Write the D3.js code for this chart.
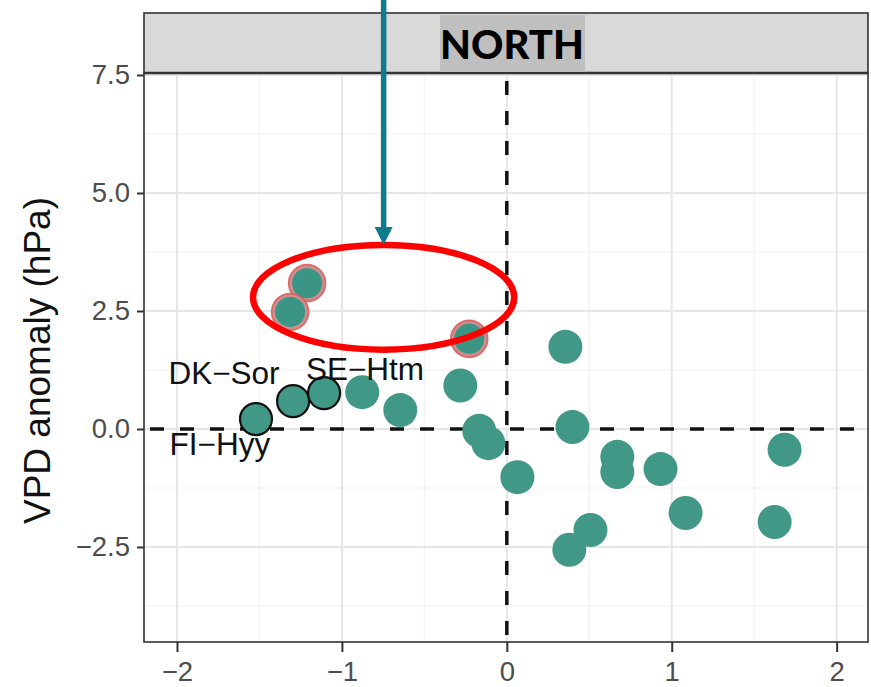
<!DOCTYPE html>
<html><head><meta charset="utf-8">
<script src="https://cdn.jsdelivr.net/npm/d3@7"></script>
<style>html,body{margin:0;padding:0;background:#fff;} svg{display:block;}</style>
</head><body>
<svg id="chart" width="871" height="687"></svg>
<script>
// ---- data ----
const plainX = [-0.877, -0.646, -0.282, -0.167, -0.112, 0.064, 0.355, 0.398, 0.670, 0.670, 0.932, 1.084, 0.507, 0.379, 1.684, 1.624];
const plainY = [0.78, 0.40, 0.92, -0.04, -0.30, -1.02, 1.74, 0.04, -0.59, -0.91, -0.85, -1.78, -2.14, -2.56, -0.44, -1.97];
const outlinedX = [-1.521, -1.296, -1.108];
const outlinedY = [0.21, 0.59, 0.76];
const highlightX = [-1.211, -1.314, -0.228];
const highlightY = [3.09, 2.48, 1.91];
const siteLabels = ["DK\u2212Sor", "SE\u2212Htm", "FI\u2212Hyy"];
const siteLabelX = [-1.715, -0.86, -1.74];
const siteLabelY = [1.12, 1.22, -0.38];
const xTicks = [-2, -1, 0, 1, 2];
const xMinor = [-1.5, -0.5, 0.5, 1.5];
const yTicks = [-2.5, 0, 2.5, 5, 7.5];
const yMinor = [-3.75, -1.25, 1.25, 3.75, 6.25];
const panelTitle = "NORTH";
const yTitle = "VPD anomaly (hPa)";
const ellipseCenter = [-0.747, 2.79];
const ellipseRadii = [0.792, 1.11];

// ---- layout ----
const L = 144, R = 868, T = 73, B = 642, stripTop = 13;
const x = d3.scaleLinear().domain([-2.2, 2.19]).range([L, R]);
const y = d3.scaleLinear().domain([-4.513, 7.542]).range([B, T]);
const svg = d3.select("#chart");
const teal = "#419886";

// grid
const g = svg.append("g");
g.selectAll(".xmin").data(xMinor).join("line").attr("x1", d => x(d)).attr("x2", d => x(d)).attr("y1", T).attr("y2", B).attr("stroke", "#f2f2f2").attr("stroke-width", 1.2);
g.selectAll(".ymin").data(yMinor).join("line").attr("y1", d => y(d)).attr("y2", d => y(d)).attr("x1", L).attr("x2", R).attr("stroke", "#f2f2f2").attr("stroke-width", 1.2);
g.selectAll(".xmaj").data(xTicks).join("line").attr("x1", d => x(d)).attr("x2", d => x(d)).attr("y1", T).attr("y2", B).attr("stroke", "#e6e6e6").attr("stroke-width", 2);
g.selectAll(".ymaj").data(yTicks).join("line").attr("y1", d => y(d)).attr("y2", d => y(d)).attr("x1", L).attr("x2", R).attr("stroke", "#e6e6e6").attr("stroke-width", 2);

// reference dashed lines
svg.append("line").attr("x1", L).attr("x2", R).attr("y1", y(0)).attr("y2", y(0))
  .attr("stroke", "#111").attr("stroke-width", 3.5).attr("stroke-dasharray", "14,16").attr("stroke-dashoffset", -6);
svg.append("line").attr("x1", x(0)).attr("x2", x(0)).attr("y1", T).attr("y2", B)
  .attr("stroke", "#111").attr("stroke-width", 3.5).attr("stroke-dasharray", "14,16").attr("stroke-dashoffset", -8);

// points
const r = 17;
svg.append("g").selectAll("circle").data(plainX.map((d, i) => [d, plainY[i]])).join("circle")
  .attr("cx", d => x(d[0])).attr("cy", d => y(d[1])).attr("r", r).attr("fill", teal);
svg.append("g").selectAll("circle").data(outlinedX.map((d, i) => [d, outlinedY[i]])).join("circle")
  .attr("cx", d => x(d[0])).attr("cy", d => y(d[1])).attr("r", r - 1).attr("fill", teal)
  .attr("stroke", "#111").attr("stroke-width", 2.2);
const hl = svg.append("g").selectAll("g").data(highlightX.map((d, i) => [d, highlightY[i]])).join("g");
hl.append("circle").attr("cx", d => x(d[0])).attr("cy", d => y(d[1])).attr("r", r + 1.5)
  .attr("fill", "#c98f8f").attr("stroke", "#e05050").attr("stroke-width", 1.6).attr("stroke-opacity", 0.8);
hl.append("circle").attr("cx", d => x(d[0])).attr("cy", d => y(d[1])).attr("r", r - 2)
  .attr("fill", "#3a9585");

// site labels
svg.append("g").selectAll("text").data(siteLabels).join("text")
  .attr("x", (d, i) => x(siteLabelX[i])).attr("y", (d, i) => y(siteLabelY[i]))
  .attr("text-anchor", "middle").attr("dominant-baseline", "middle")
  .attr("font-family", "Liberation Sans, Arial, sans-serif").attr("font-size", 31.5).attr("fill", "#111")
  .text(d => d);

// panel border
svg.append("rect").attr("x", L).attr("y", T).attr("width", R - L).attr("height", B - T)
  .attr("fill", "none").attr("stroke", "#333").attr("stroke-width", 1.6);

// strip
svg.append("rect").attr("x", L).attr("y", stripTop).attr("width", R - L).attr("height", T - stripTop)
  .attr("fill", "#d9d9d9").attr("stroke", "#333").attr("stroke-width", 1.6);
svg.append("line").attr("x1", L).attr("x2", R).attr("y1", T).attr("y2", T).attr("stroke", "#333").attr("stroke-width", 2.5);
const titleCx = 512;
svg.append("rect").attr("x", titleCx - 72).attr("y", stripTop + 2).attr("width", 145).attr("height", T - stripTop - 3).attr("fill", "#bfbfbf");
svg.append("text").attr("x", titleCx).attr("y", 59).attr("text-anchor", "middle")
  .attr("font-family", "Lato, sans-serif").attr("font-weight", "900").attr("font-size", 40).attr("fill", "#000")
  .text(panelTitle);

// axes
const xAxis = svg.append("g").attr("transform", `translate(0,${B})`)
  .call(d3.axisBottom(x).tickValues(xTicks).tickSize(10).tickPadding(9).tickFormat(d => d3.format("d")(d).replace("-", "\u2212")));
const yAxis = svg.append("g").attr("transform", `translate(${L},0)`)
  .call(d3.axisLeft(y).tickValues(yTicks).tickSize(7).tickPadding(7).tickFormat(d => d3.format(".1f")(d).replace("-", "\u2212")));
[xAxis, yAxis].forEach(a => {
  a.select(".domain").remove();
  a.selectAll(".tick line").attr("stroke", "#333").attr("stroke-width", 2);
  a.selectAll(".tick text").attr("fill", "#4d4d4d").attr("font-size", 27.5).attr("font-family", "Liberation Sans, Arial, sans-serif");
});
xAxis.selectAll(".tick text").attr("dy", "0.71em");

// y title
svg.append("text").attr("transform", `translate(50,${(T + B) / 2 + 3}) rotate(-90)`)
  .attr("text-anchor", "middle").attr("font-family", "Liberation Sans, Arial, sans-serif")
  .attr("font-size", 37).attr("fill", "#111").text(yTitle);

// annotations: ellipse and arrow
svg.append("ellipse").attr("cx", x(ellipseCenter[0])).attr("cy", y(ellipseCenter[1]))
  .attr("rx", x(ellipseCenter[0] + ellipseRadii[0]) - x(ellipseCenter[0]))
  .attr("ry", y(ellipseCenter[1]) - y(ellipseCenter[1] + ellipseRadii[1]))
  .attr("fill", "none").attr("stroke", "#ff0000").attr("stroke-width", 6.5);
const arrowX = x(ellipseCenter[0]), tipY = y(ellipseCenter[1] + ellipseRadii[1]);
svg.append("line").attr("x1", arrowX).attr("x2", arrowX).attr("y1", 0).attr("y2", tipY - 14)
  .attr("stroke", "#0f7b8c").attr("stroke-width", 5.5);
svg.append("path").attr("d", `M${arrowX - 9},${tipY - 18} L${arrowX + 9},${tipY - 18} L${arrowX},${tipY} Z`).attr("fill", "#0f7b8c");
</script>
</body></html>
